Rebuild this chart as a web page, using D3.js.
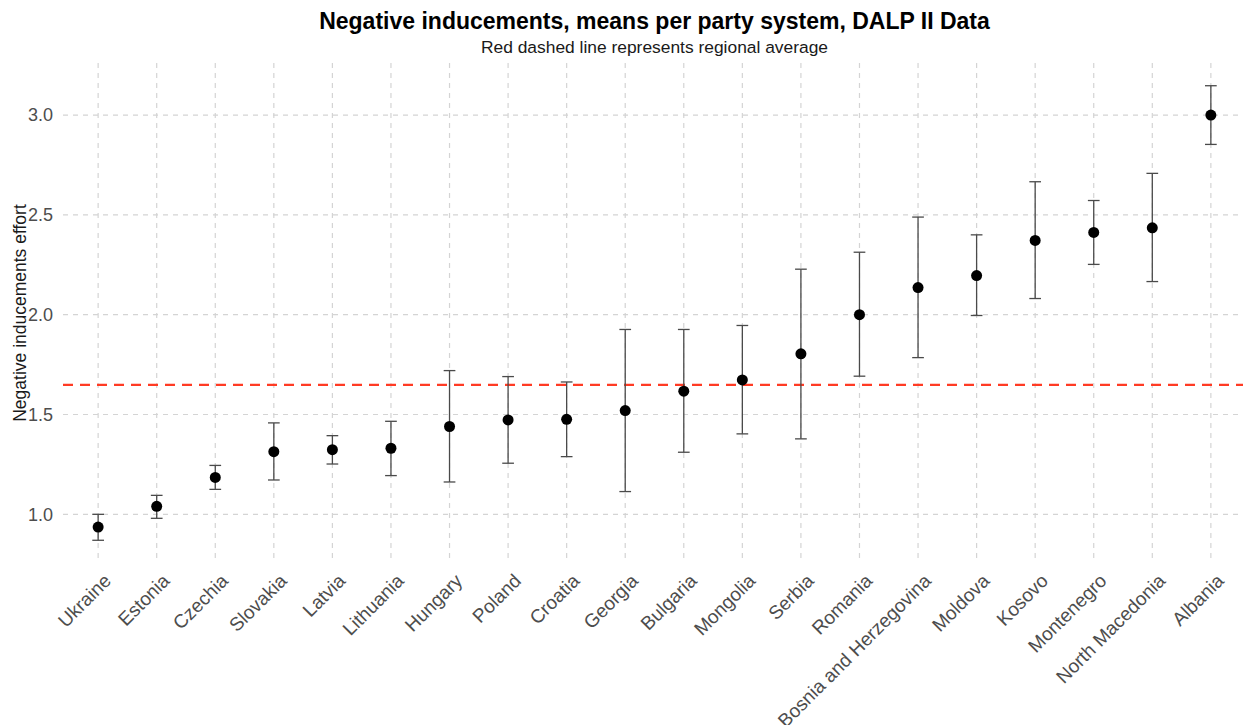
<!DOCTYPE html>
<html>
<head>
<meta charset="utf-8">
<script src="https://cdn.jsdelivr.net/npm/d3@7"></script>
<style>
  body { margin: 0; background: #fff; }
  text { font-family: "Liberation Sans", Arial, sans-serif; }
</style>
</head>
<body>
<div id="viz"></div>
<script>
// values
const countries = ["Ukraine", "Estonia", "Czechia", "Slovakia", "Latvia", "Lithuania", "Hungary", "Poland",
  "Croatia", "Georgia", "Bulgaria", "Mongolia", "Serbia", "Romania", "Bosnia and Herzegovina", "Moldova",
  "Kosovo", "Montenegro", "North Macedonia", "Albania"];
const means = [0.936, 1.04, 1.185, 1.314, 1.324, 1.331, 1.44, 1.473, 1.476, 1.52, 1.617, 1.673, 1.804, 2.0,
  2.136, 2.196, 2.372, 2.412, 2.435, 3.0];
const lower = [0.87, 0.98, 1.125, 1.172, 1.252, 1.194, 1.162, 1.256, 1.289, 1.114, 1.311, 1.403, 1.378, 1.692,
  1.785, 1.996, 2.081, 2.252, 2.166, 2.853];
const upper = [1.0, 1.095, 1.245, 1.458, 1.394, 1.466, 1.72, 1.69, 1.663, 1.926, 1.926, 1.946, 2.228, 2.313,
  2.489, 2.40, 2.666, 2.572, 2.708, 3.147];
const yTicks = [1.0, 1.5, 2.0, 2.5, 3.0];
const regionalAvg = 1.648;

const width = 1243, height = 725;
const margin = { top: 63, right: -3, bottom: 162, left: 63 };

const dataset = countries.map((c, i) => ({ country: c, mean: means[i], lo: lower[i], hi: upper[i] }));

const svg = d3.select("#viz")
  .append("svg")
  .attr("width", width)
  .attr("height", height);

const x = d3.scalePoint()
  .domain(countries)
  .range([margin.left, width - margin.right])
  .padding(0.6);

const lo = d3.min(lower), hi = d3.max(upper), pad = (hi - lo) * 0.05;
const y = d3.scaleLinear()
  .domain([lo - pad, hi + pad])
  .range([height - margin.bottom, margin.top]);

const step = x.step();

// grid
svg.append("g")
  .selectAll("line")
  .data(yTicks)
  .enter().append("line")
  .attr("x1", margin.left).attr("x2", width)
  .attr("y1", d => y(d)).attr("y2", d => y(d))
  .attr("stroke", "#d4d4d4").attr("stroke-width", 1.2)
  .attr("stroke-dasharray", "5,5");

svg.append("g")
  .selectAll("line")
  .data(countries)
  .enter().append("line")
  .attr("x1", d => x(d)).attr("x2", d => x(d))
  .attr("y1", margin.top).attr("y2", height - margin.bottom)
  .attr("stroke", "#d4d4d4").attr("stroke-width", 1.2)
  .attr("stroke-dasharray", "5,5");

// regional average
svg.append("line")
  .attr("x1", margin.left).attr("x2", width)
  .attr("y1", y(regionalAvg)).attr("y2", y(regionalAvg))
  .attr("stroke", "#ff3b24").attr("stroke-width", 2.2)
  .attr("stroke-dasharray", "10,7");

// error bars
const bars = svg.append("g")
  .attr("stroke", "#4a4a4a")
  .attr("stroke-width", 1.3);

const capW = step * 0.2 / 2;

bars.selectAll(".stem")
  .data(dataset)
  .enter().append("line")
  .attr("x1", d => x(d.country)).attr("x2", d => x(d.country))
  .attr("y1", d => y(d.lo)).attr("y2", d => y(d.hi));

bars.selectAll(".capHi")
  .data(dataset)
  .enter().append("line")
  .attr("x1", d => x(d.country) - capW).attr("x2", d => x(d.country) + capW)
  .attr("y1", d => y(d.hi)).attr("y2", d => y(d.hi));

bars.selectAll(".capLo")
  .data(dataset)
  .enter().append("line")
  .attr("x1", d => x(d.country) - capW).attr("x2", d => x(d.country) + capW)
  .attr("y1", d => y(d.lo)).attr("y2", d => y(d.lo));

// points
svg.append("g")
  .selectAll("circle")
  .data(dataset)
  .enter().append("circle")
  .attr("cx", d => x(d.country))
  .attr("cy", d => y(d.mean))
  .attr("r", 5.5)
  .attr("fill", "#000");

// y axis labels
svg.append("g")
  .selectAll("text")
  .data(yTicks)
  .enter().append("text")
  .attr("x", margin.left - 10)
  .attr("y", d => y(d))
  .attr("dy", "0.35em")
  .attr("text-anchor", "end")
  .attr("font-size", 18)
  .attr("fill", "#4d4d4d")
  .text(d => d.toFixed(1));

// x axis labels
svg.append("g")
  .selectAll("text")
  .data(countries)
  .enter().append("text")
  .attr("transform", d => `translate(${x(d) + 4},${height - margin.bottom + 9}) rotate(-45)`)
  .attr("text-anchor", "end")
  .attr("dy", "0.75em")
  .attr("font-size", 19)
  .attr("fill", "#4d4d4d")
  .text(d => d);

// axis title
svg.append("text")
  .attr("transform", `translate(26,${(margin.top + height - margin.bottom) / 2}) rotate(-90)`)
  .attr("text-anchor", "middle")
  .attr("font-size", 17.5)
  .attr("fill", "#1a1a1a")
  .text("Negative inducements effort");

// title and subtitle
const cx = (margin.left + width - margin.right) / 2;
svg.append("text")
  .attr("x", cx).attr("y", 29)
  .attr("text-anchor", "middle")
  .attr("font-size", 23)
  .attr("font-weight", "bold")
  .attr("fill", "#000")
  .text("Negative inducements, means per party system, DALP II Data");

svg.append("text")
  .attr("x", cx).attr("y", 53)
  .attr("text-anchor", "middle")
  .attr("font-size", 17.4)
  .attr("fill", "#1a1a1a")
  .text("Red dashed line represents regional average");
</script>
</body>
</html>
